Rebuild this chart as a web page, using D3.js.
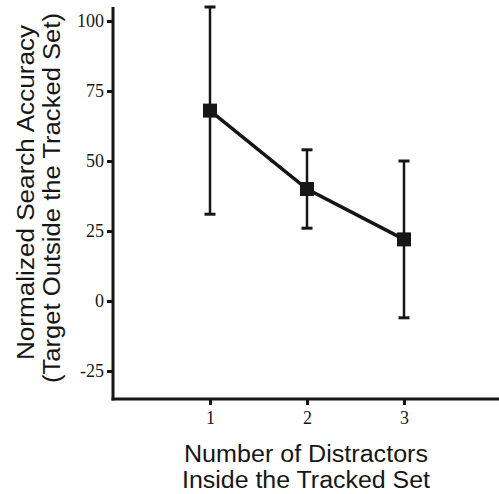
<!DOCTYPE html>
<html><head><meta charset="utf-8">
<script src="https://cdn.jsdelivr.net/npm/d3@7"></script>
<style>html,body{margin:0;padding:0;background:#fff;}</style>
</head><body>
<svg id="c" width="499" height="494"></svg>
<script>
const distractors = [1, 2, 3];
const accuracy = [68, 40, 22];
const errUpper = [105, 54, 50];
const errLower = [31, 26, -6];
const yTicks = [-25, 0, 25, 50, 75, 100];
const xTicks = [1, 2, 3];
const xTitle = ["Number of Distractors", "Inside the Tracked Set"];
const yTitle = ["Normalized Search Accuracy", "(Target Outside the Tracked Set)"];

const svg = d3.select("#c");
const ink = "#161616";
const x = d3.scaleLinear().domain([0, 4]).range([113, 501]);
const y = d3.scaleLinear().domain([-35, 105]).range([399, 7]);

// axes
const yAxis = svg.append("g").attr("transform", "translate(113,0)")
  .call(d3.axisLeft(y).tickValues(yTicks).tickFormat(d => String(d))
    .tickSize(6).tickPadding(3).tickSizeOuter(0));
const xAxis = svg.append("g").attr("transform", "translate(0,399)")
  .call(d3.axisBottom(x).tickValues(xTicks).tickFormat(d => String(d))
    .tickSize(6).tickPadding(6).tickSizeOuter(0));
[yAxis, xAxis].forEach(g => {
  g.select(".domain").attr("stroke", ink).attr("stroke-width", 3);
  g.selectAll(".tick line").attr("stroke", ink).attr("stroke-width", 3);
  g.selectAll(".tick text").attr("fill", ink)
    .style("font-family", "'Liberation Serif', 'Times New Roman', serif")
    .style("font-size", "18px");
});
xAxis.select(".domain").attr("d", "M111.5,0H499");
yAxis.select(".domain").attr("d", "M0,7V400.5");

// error bars
const g = svg.append("g");
distractors.forEach((d, i) => {
  const cx = x(d);
  g.append("line").attr("x1", cx).attr("x2", cx)
    .attr("y1", y(errUpper[i])).attr("y2", y(errLower[i]))
    .attr("stroke", ink).attr("stroke-width", 2.5);
  [errUpper[i], errLower[i]].forEach(v => {
    g.append("line").attr("x1", cx - 5.5).attr("x2", cx + 5.5)
      .attr("y1", y(v)).attr("y2", y(v))
      .attr("stroke", ink).attr("stroke-width", 3);
  });
});

// line
const line = d3.line().x((d, i) => x(distractors[i])).y(d => y(d));
g.append("path").datum(accuracy).attr("d", line)
  .attr("fill", "none").attr("stroke", ink).attr("stroke-width", 3.5);

// markers
const s = 14;
g.selectAll("rect.m").data(accuracy).enter().append("rect")
  .attr("x", (d, i) => x(distractors[i]) - s / 2)
  .attr("y", d => y(d) - s / 2)
  .attr("width", s).attr("height", s).attr("fill", ink);

// axis titles
const sans = "'Liberation Sans', Arial, Helvetica, sans-serif";
const xLens = [244, 248];
const xBase = [462, 488];
xTitle.forEach((t, i) => {
  svg.append("text").attr("text-anchor", "middle")
    .attr("x", 306).attr("y", xBase[i])
    .attr("textLength", xLens[i]).attr("lengthAdjust", "spacingAndGlyphs")
    .style("font-family", sans).style("font-size", "23px").attr("fill", ink)
    .text(t);
});
const yLens = [335, 370];
const yBase = [34, 60];
const yCen = [192.5, 198];
yTitle.forEach((t, i) => {
  svg.append("text").attr("text-anchor", "middle")
    .attr("transform", `translate(${yBase[i]},${yCen[i]}) rotate(-90)`)
    .attr("x", 0).attr("y", 0)
    .attr("textLength", yLens[i]).attr("lengthAdjust", "spacingAndGlyphs")
    .style("font-family", sans).style("font-size", "23px").attr("fill", ink)
    .text(t);
});
</script>
</body></html>
